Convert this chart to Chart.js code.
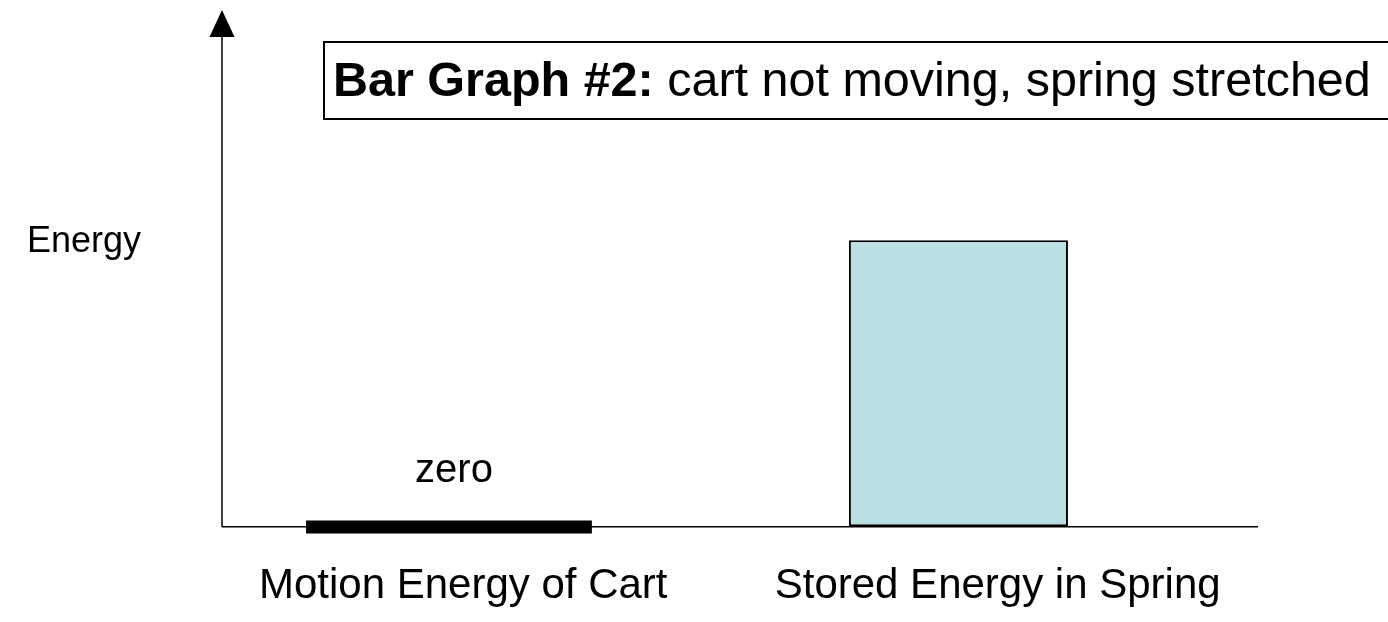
<!DOCTYPE html>
<html>
<head>
<meta charset="utf-8">
<title>Bar Graph #2</title>
<script src="https://cdn.jsdelivr.net/npm/chart.js@4.4.0/dist/chart.umd.min.js"></script>
<style>
  html, body { margin: 0; padding: 0; background: #fff; }
  #wrap { width: 1388px; height: 622px; }
</style>
</head>
<body>
<div id="wrap"><canvas id="energyChart" width="1388" height="622"></canvas></div>
<script>
const categories = ["Motion Energy of Cart", "Stored Energy in Spring"];
const energyValues = [0, 58.4];
const valueLabels = ["zero", ""];
const barColors = ["#000000", "#bbe0e3"];
const titleBold = "Bar Graph #2:";
const titleRest = " cart not moving, spring stretched";
const axisLabel = "Energy";

const FONT = "'Liberation Sans', Arial, sans-serif";

// category captions sit a little right of their bars
const labelShift = [0.028, 0.077];
const barWidths = [0.561, 0.43];

// axis arrow, axis label, value labels and the boxed heading
const decorPlugin = {
  id: "decor",
  afterDraw(chart) {
    const { ctx, chartArea, scales } = chart;
    const x0 = chartArea.left;
    const yZero = scales.y.getPixelForValue(0);
    const top = chartArea.top;

    ctx.save();
    ctx.strokeStyle = "#000";
    ctx.fillStyle = "#000";
    ctx.lineWidth = 1.5;
    ctx.beginPath();
    ctx.moveTo(x0, yZero);
    ctx.lineTo(x0, top);
    ctx.stroke();

    ctx.beginPath();
    ctx.moveTo(x0, top - 26);
    ctx.lineTo(x0 - 12.5, top + 1);
    ctx.lineTo(x0 + 12.5, top + 1);
    ctx.closePath();
    ctx.fill();

    ctx.font = "36px " + FONT;
    ctx.textAlign = "center";
    ctx.textBaseline = "middle";
    ctx.fillText(axisLabel, 84, 242);

    ctx.font = "40px " + FONT;
    ctx.textBaseline = "alphabetic";
    valueLabels.forEach((txt, i) => {
      if (!txt) return;
      const bar = chart.getDatasetMeta(i).data[0];
      const barTop = Math.min(bar.y, bar.base);
      ctx.fillText(txt, bar.x + 5, barTop - 39);
    });

    ctx.lineWidth = 2;
    ctx.strokeRect(324, 42, 1100, 77);
    ctx.textAlign = "left";
    ctx.font = "bold 48.5px " + FONT;
    ctx.fillText(titleBold, 333, 96);
    const w = ctx.measureText(titleBold).width;
    ctx.font = "48.5px " + FONT;
    ctx.fillText(titleRest, 333 + w, 96);
    ctx.restore();
  }
};

new Chart(document.getElementById("energyChart"), {
  type: "bar",
  data: {
    datasets: categories.map((c, i) => ({
      label: c,
      data: [{ x: i, y: energyValues[i] }],
      backgroundColor: barColors[i],
      borderColor: "#000",
      borderWidth: i === 0 ? 0 : 2,
      borderSkipped: false,
      minBarLength: i === 0 ? 13 : 0,
      barPercentage: barWidths[i],
      categoryPercentage: 1,
      grouped: false
    }))
  },
  options: {
    responsive: false,
    animation: false,
    layout: { padding: { left: 222, right: 130, top: 36, bottom: 0 } },
    plugins: {
      legend: { display: false },
      tooltip: { enabled: false }
    },
    scales: {
      x: {
        type: "linear",
        offset: false,
        min: -0.4455,
        max: 1.588,
        afterBuildTicks: s => { s.ticks = categories.map((_, i) => ({ value: i + labelShift[i] })); },
        afterFit: s => { s.height = 88; },
        grid: { display: false, drawTicks: false, offset: false },
        border: { display: false },
        ticks: {
          callback: (v, idx) => categories[idx] ?? "",
          color: "#000",
          font: { family: FONT, size: 42 },
          padding: 27,
          maxRotation: 0,
          autoSkip: false
        }
      },
      y: {
        min: -1.4,
        max: 100,
        afterBuildTicks: s => { s.ticks = [{ value: 0 }]; },
        ticks: { display: false },
        grid: { color: "#000", lineWidth: 1.5, drawTicks: false },
        border: { display: false }
      }
    }
  },
  plugins: [decorPlugin]
});
</script>
</body>
</html>
